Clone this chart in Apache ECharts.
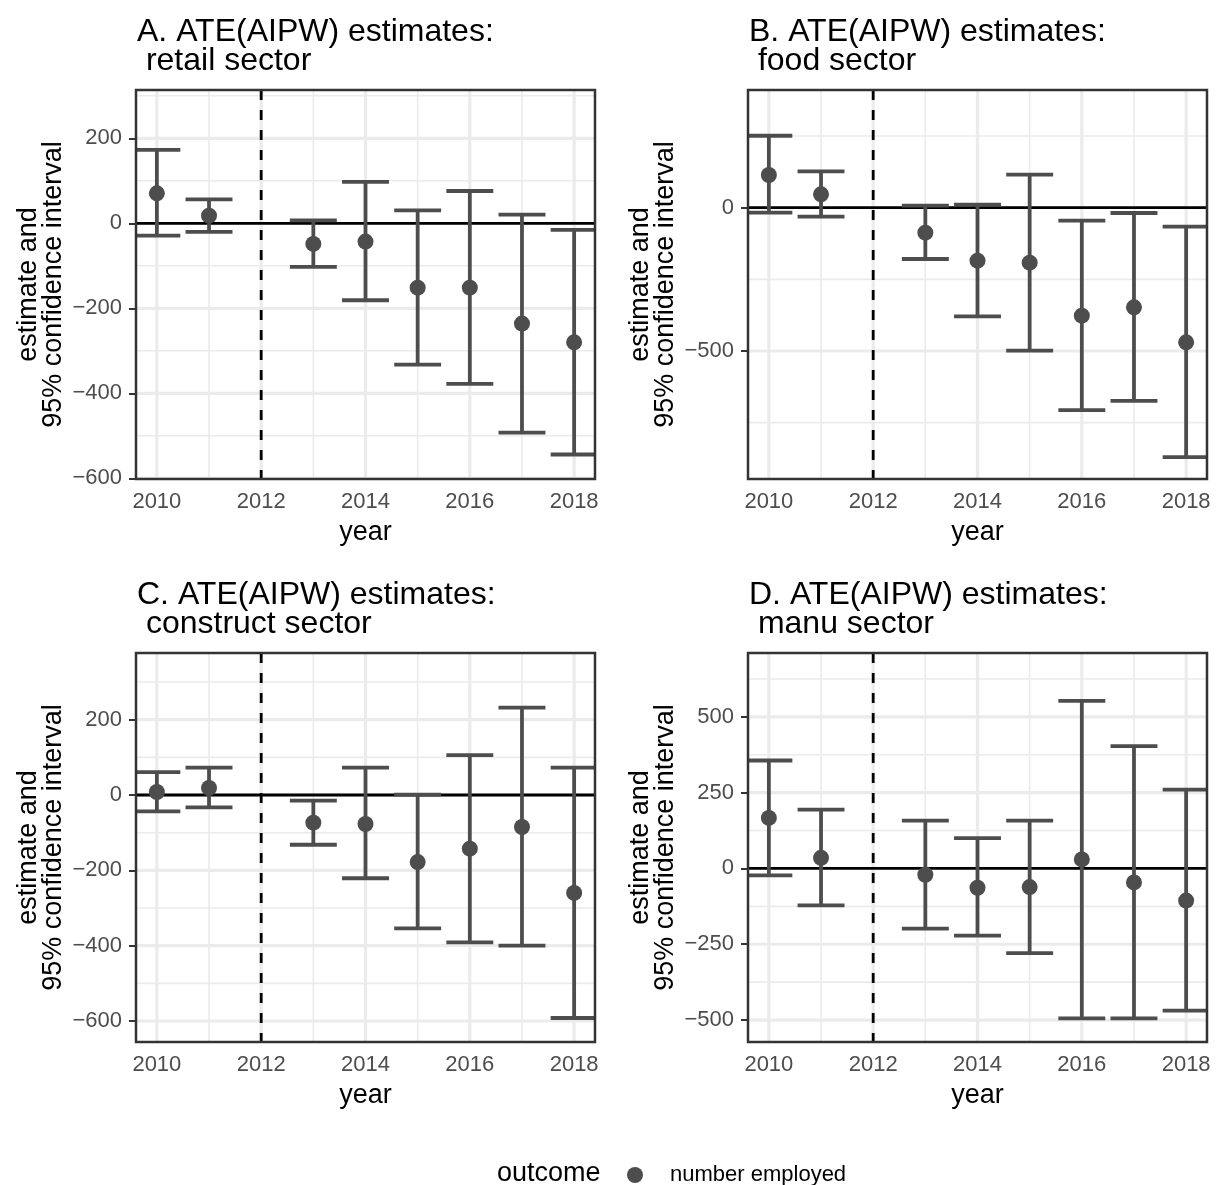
<!DOCTYPE html>
<html>
<head>
<meta charset="utf-8">
<script src="https://cdn.jsdelivr.net/npm/echarts@6/dist/echarts.min.js"></script>
<style>
  html, body { margin: 0; padding: 0; background: #ffffff; }
  #chart { width: 1221px; height: 1185px; }
</style>
</head>
<body>
<div id="chart"></div>
<script>
// ---- data -------------------------------------------------------------
const years = [2010, 2011, 2013, 2014, 2015, 2016, 2017, 2018];
const treatmentYear = 2012;

// retail sector
const retailEst  = [70.6, 18, -48.6, -43, -151.4, -151.4, -236, -280];
const retailLow  = [-29, -20.4, -102.7, -181, -332.5, -378, -492.5, -544];
const retailHigh = [172.5, 56.5, 7, 97.3, 30.6, 76, 20.4, -15.7];

// food sector
const foodEst  = [114, 46.5, -87.2, -185, -192, -376.7, -347.7, -469.8];
const foodLow  = [-17.4, -31.4, -179, -379, -499, -706, -674, -870];
const foodHigh = [251, 126.7, 7, 10.5, 115, -45.3, -18.6, -66.3];

// construction sector
const constructEst  = [8, 18.6, -73.5, -77, -178, -142.5, -85, -260];
const constructLow  = [-43.4, -32.7, -132, -221, -354, -391, -400, -592];
const constructHigh = [61, 72.6, -15, 72.6, 1, 106, 232, 72.6];

// manufacturing sector
const manuEst  = [166.7, 35, -20.8, -63.6, -61.4, 29.6, -46, -106];
const manuLow  = [-23, -121.7, -198.5, -221.5, -279.6, -494.5, -494.5, -469];
const manuHigh = [356, 194, 158, 100, 158, 552.6, 403.5, 260];

// tick labels and grid breaks
const xTicks = [2010, 2012, 2014, 2016, 2018];
const xMinor = [2011, 2013, 2015, 2017];
const xRange = [2009.6, 2018.4];

const retailTicks = [-600, -400, -200, 0, 200];
const retailMinor = [-500, -300, -100, 100, 300];
const retailRange = [-601.6, 313.6];

const foodTicks = [-500, 0];
const foodMinor = [-750, -250, 250];
const foodRange = [-946.6, 410.6];

const constructTicks = [-600, -400, -200, 0, 200];
const constructMinor = [-500, -300, -100, 100, 300];
const constructRange = [-655.7, 377];

const manuTicks = [-500, -250, 0, 250, 500];
const manuMinor = [-375, -125, 125, 375, 625];
const manuRange = [-572.4, 710.5];

const panelTitles = [
  'A. ATE(AIPW) estimates:\n retail sector',
  'B. ATE(AIPW) estimates:\n food sector',
  'C. ATE(AIPW) estimates:\n construct sector',
  'D. ATE(AIPW) estimates:\n manu sector'
];
const outcomeName = 'number employed';

// ---- styling ----------------------------------------------------------
const FONT = 'Liberation Sans, Arial, Helvetica, sans-serif';
const MARK = '#4d4d4d';
const GRID_COLOR = '#ebebeb';
const capHalf = 0.45;

const panels = [
  { est: retailEst, low: retailLow, high: retailHigh, ticks: retailTicks, minor: retailMinor, range: retailRange },
  { est: foodEst, low: foodLow, high: foodHigh, ticks: foodTicks, minor: foodMinor, range: foodRange },
  { est: constructEst, low: constructLow, high: constructHigh, ticks: constructTicks, minor: constructMinor, range: constructRange },
  { est: manuEst, low: manuLow, high: manuHigh, ticks: manuTicks, minor: manuMinor, range: manuRange }
];

const layout = [
  { left: 136, top: 90 },
  { left: 748, top: 90 },
  { left: 136, top: 653 },
  { left: 748, top: 653 }
];
const PANEL_W = 459, PANEL_H = 389;

const fmt = v => (v < 0 ? '\u2212' + Math.abs(v) : String(v));

const grids = [], xAxes = [], yAxes = [], series = [], titles = [];

panels.forEach((p, i) => {
  const L = layout[i];
  grids.push({
    left: L.left, top: L.top, width: PANEL_W, height: PANEL_H,
    show: true, z: 10, backgroundColor: 'transparent',
    borderColor: '#333333', borderWidth: 2.5
  });
  xAxes.push({
    gridIndex: i, type: 'value', min: xRange[0], max: xRange[1],
    name: 'year', nameLocation: 'middle', nameGap: 40,
    nameTextStyle: { fontFamily: FONT, fontSize: 27, color: '#000' },
    axisLine: { show: false },
    axisTick: { show: true, length: 7, customValues: xTicks, lineStyle: { color: '#333333', width: 2 } },
    axisLabel: { customValues: xTicks, margin: 12, fontFamily: FONT, fontSize: 22, color: MARK, formatter: v => String(v) },
    splitLine: { show: false }
  });
  yAxes.push({
    gridIndex: i, type: 'value', min: p.range[0], max: p.range[1],
    name: 'estimate and\n95% confidence interval', nameLocation: 'middle', nameGap: 70,
    nameTextStyle: { fontFamily: FONT, fontSize: 27, color: '#000', lineHeight: 25 },
    axisLine: { show: false },
    axisTick: { show: true, length: 7, customValues: p.ticks, lineStyle: { color: '#333333', width: 2 } },
    axisLabel: { customValues: p.ticks, margin: 14, fontFamily: FONT, fontSize: 22, color: MARK, formatter: fmt },
    splitLine: { show: false }
  });
  titles.push({
    text: panelTitles[i], left: L.left + 1, top: L.top - 72, padding: 0,
    textStyle: { fontFamily: FONT, fontSize: 32, fontWeight: 'normal', color: '#000', lineHeight: 29 }
  });

  // background grid lines: [kind, value] with kind 0/1 = horizontal major/minor, 2/3 = vertical major/minor
  const gridData = []
    .concat(p.ticks.map(v => [0, v]))
    .concat(p.minor.map(v => [1, v]))
    .concat(xTicks.map(v => [2, v]))
    .concat(xMinor.map(v => [3, v]));
  series.push({
    type: 'custom', xAxisIndex: i, yAxisIndex: i, z: 1, silent: true, clip: false,
    encode: { x: -1, y: -1 },
    data: gridData,
    renderItem: (params, api) => {
      const cs = params.coordSys;
      const kind = api.value(0), v = api.value(1);
      const w = (kind === 0 || kind === 2) ? 3.2 : 1.6;
      if (kind < 2) {
        const y = api.coord([2014, v])[1];
        if (y < cs.y || y > cs.y + cs.height) return null;
        return { type: 'line', shape: { x1: cs.x, y1: y, x2: cs.x + cs.width, y2: y }, style: { stroke: GRID_COLOR, lineWidth: w } };
      }
      const x = api.coord([v, 0])[0];
      if (x < cs.x || x > cs.x + cs.width) return null;
      return { type: 'line', shape: { x1: x, y1: cs.y, x2: x, y2: cs.y + cs.height }, style: { stroke: GRID_COLOR, lineWidth: w } };
    }
  });

  // reference lines: zero effect and treatment year
  series.push({
    type: 'custom', xAxisIndex: i, yAxisIndex: i, z: 2, silent: true, clip: false,
    encode: { x: -1, y: -1 },
    data: [[0, 0], [1, treatmentYear]],
    renderItem: (params, api) => {
      const cs = params.coordSys;
      if (api.value(0) === 0) {
        const y = api.coord([2014, api.value(1)])[1];
        return { type: 'line', shape: { x1: cs.x, y1: y, x2: cs.x + cs.width, y2: y }, style: { stroke: '#000', lineWidth: 2.8 } };
      }
      const x = api.coord([api.value(1), 0])[0];
      return { type: 'line', shape: { x1: x, y1: cs.y, x2: x, y2: cs.y + cs.height }, style: { stroke: '#000', lineWidth: 2.8, lineDash: [10, 10] } };
    }
  });

  // confidence intervals
  series.push({
    type: 'custom', xAxisIndex: i, yAxisIndex: i, z: 3, silent: true, clip: false,
    encode: { x: 0, y: [1, 2] },
    data: years.map((y, k) => [y, p.low[k], p.high[k]]),
    renderItem: (params, api) => {
      const cs = params.coordSys;
      const x = api.value(0), lo = api.value(1), hi = api.value(2);
      const pLo = api.coord([x, lo]), pHi = api.coord([x, hi]);
      const l = Math.max(api.coord([x - capHalf, lo])[0], cs.x);
      const r = Math.min(api.coord([x + capHalf, lo])[0], cs.x + cs.width);
      const st = { stroke: MARK, lineWidth: 3.8, fill: null };
      return {
        type: 'group', children: [
          { type: 'line', shape: { x1: pLo[0], y1: pLo[1], x2: pHi[0], y2: pHi[1] }, style: st },
          { type: 'line', shape: { x1: l, y1: pHi[1], x2: r, y2: pHi[1] }, style: st },
          { type: 'line', shape: { x1: l, y1: pLo[1], x2: r, y2: pLo[1] }, style: st }
        ]
      };
    }
  });

  // point estimates
  series.push({
    type: 'scatter', name: outcomeName, xAxisIndex: i, yAxisIndex: i, z: 4, silent: true,
    symbol: 'circle', symbolSize: 16,
    itemStyle: { color: MARK, opacity: 1 },
    data: years.map((y, k) => [y, p.est[k]])
  });
});

titles.push({
  text: 'outcome', left: 497, top: 1160, padding: 0,
  textStyle: { fontFamily: FONT, fontSize: 27, fontWeight: 'normal', color: '#000' }
});

const chart = echarts.init(document.getElementById('chart'), null, { renderer: 'canvas' });
chart.setOption({
  backgroundColor: '#ffffff',
  animation: false,
  title: titles,
  legend: {
    data: [outcomeName], left: 627, top: 1164, padding: 0,
    icon: 'circle', itemWidth: 16, itemHeight: 16,
    itemStyle: { opacity: 1 },
    textStyle: { fontFamily: FONT, fontSize: 22, color: '#000', padding: [0, 0, 0, 22] },
    selectedMode: false
  },
  grid: grids,
  xAxis: xAxes,
  yAxis: yAxes,
  series: series
});
</script>
</body>
</html>
